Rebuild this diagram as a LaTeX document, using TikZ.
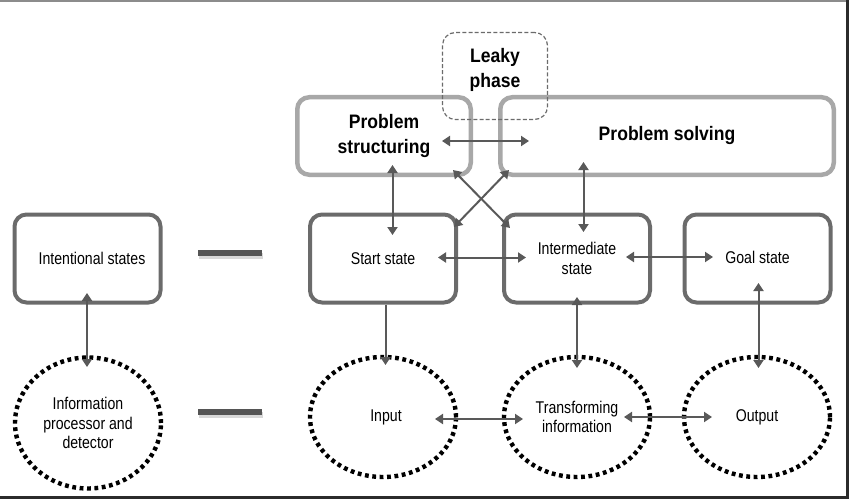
\documentclass[tikz,border=0pt]{standalone}
\usepackage{fontspec}
\setmainfont{Liberation Sans}[FakeStretch=0.83]
\newfontfamily\boldfam{Liberation Sans}[FakeStretch=0.9]
\usetikzlibrary{arrows.meta,calc,shapes.geometric}
\definecolor{boxgray}{HTML}{6B6B6B}
\definecolor{topgray}{HTML}{A8A8A8}
\definecolor{arrgray}{HTML}{595959}
\definecolor{bargray}{HTML}{555555}
\definecolor{framedark}{HTML}{2B2B2B}
\definecolor{frametop}{HTML}{8C8C8C}
\newcommand{\regtext}{\fontsize{17}{19.5}\selectfont}
\newcommand{\boldtext}{\boldfam\bfseries\fontsize{19.5}{24.5}\selectfont}
\begin{document}
\begin{tikzpicture}[x=1pt,y=-1pt,
  statebox/.style={draw=boxgray, line width=4pt, rounded corners=12pt,
    minimum width=146pt, minimum height=88pt, inner sep=0pt, align=center, font=\regtext},
  topbox/.style={draw=topgray, line width=4.5pt, rounded corners=12pt,
    minimum height=77.5pt, inner sep=0pt, align=center, font=\boldtext},
  leakybox/.style={draw=boxgray, line width=1.2pt, dash pattern=on 4pt off 2.2pt,
    rounded corners=13pt, minimum width=105pt, minimum height=87pt, inner sep=0pt},
  dotcirc/.style={ellipse, draw=black, line width=4.4pt, dash pattern=on 3.8pt off 3.6pt,
    minimum width=146pt, minimum height=120pt, inner sep=0pt, align=center, font=\regtext},
  arr/.style={draw=arrgray, line width=2pt, {Triangle[width=10pt,length=8pt]}-{Triangle[width=10pt,length=8pt]}},
  arrone/.style={draw=arrgray, line width=2pt, -{Triangle[width=10pt,length=8pt]}},
  bar/.style={draw=bargray, line width=6pt},
  barshadow/.style={draw=black!30, line width=6pt, opacity=0.5},
  boldlabel/.style={font=\boldtext, align=center, inner sep=0pt}
]
\useasboundingbox (0,0) rectangle (850,500);

% frame
\draw[frametop, line width=2pt] (0,1) -- (848,1);
\draw[framedark, line width=2.5pt] (847.5,0) -- (847.5,497.5) -- (0,497.5);

% top boxes
\node[topbox, minimum width=173.5pt] (pstruct) at (384,136) {Problem\\structuring};
\node[topbox, minimum width=333.5pt] (psolve) at (667,136) {Problem solving};
\node[leakybox] (leaky) at (495,76) {};
\node[boldlabel] (leakytext) at (495,70) {Leaky\\phase};

% state boxes
\node[statebox] (intent) at (87.5,258.5) {\hspace*{9pt}Intentional states};
\node[statebox] (start) at (383,258.5) {Start state};
\node[statebox] (inter) at (577,258.5) {Intermediate\\state};
\node[statebox] (goal) at (757.5,258.5) {\raisebox{3pt}{Goal state}};

% dotted circles
\node[dotcirc, minimum height=131pt] (info) at (88,423) {Information\\processor and\\detector};
\node[dotcirc] (input) at (383,417) {\hspace*{6pt}Input};
\node[dotcirc] (trans) at (577,417) {Transforming\\information};
\node[dotcirc] (output) at (757,417) {Output};

% bars
\coordinate (b1a) at (198,253); \coordinate (b1b) at (262,253);
\coordinate (b2a) at (198,412); \coordinate (b2b) at (262,412);
\draw[barshadow] ($(b1a)+(1,2.5)$) -- ($(b1b)+(1,2.5)$);
\draw[barshadow] ($(b2a)+(1,2.5)$) -- ($(b2b)+(1,2.5)$);
\draw[bar] (b1a) -- (b1b);
\draw[bar] (b2a) -- (b2b);

% connectors
\draw[arr] ($(pstruct.center)+(58,5)$) -- ($(psolve.center)+(-138,5)$);
\draw[arr] ($(pstruct.center)+(8.5,29)$) -- ($(start.center)+(9.5,-23.5)$);
\draw[arr] ($(psolve.center)+(-83.5,26)$) -- ($(inter.center)+(6.5,-26.5)$);
\draw[arr] ($(pstruct.center)+(69,34)$) -- ($(inter.center)+(-67,-30.5)$);
\draw[arr] ($(psolve.center)+(-158,34)$) -- ($(start.center)+(71,-31.5)$);
\draw[arr] ($(start.center)+(55,-1)$) -- ($(inter.center)+(-51,-1)$);
\draw[arr] ($(inter.center)+(49,-1.5)$) -- ($(goal.center)+(-44.5,-1.5)$);
\draw[arrone] ($(start.south)+(2.5,0)$) -- ($(input.center)+(2.5,-52)$);
\draw[arr] ($(inter.center)+(0,38.5)$) -- ($(trans.center)+(0,-49)$);
\draw[arr] ($(goal.center)+(1,24.5)$) -- ($(output.center)+(1.5,-49)$);
\draw[arr] ($(input.center)+(52,2)$) -- ($(trans.center)+(-54,2)$);
\draw[arr] ($(trans.center)+(47,0)$) -- ($(output.center)+(-45,0)$);
\draw[arr] ($(intent.center)+(-0.5,34.5)$) -- ($(info.center)+(-1,-56)$);
\end{tikzpicture}
\end{document}
